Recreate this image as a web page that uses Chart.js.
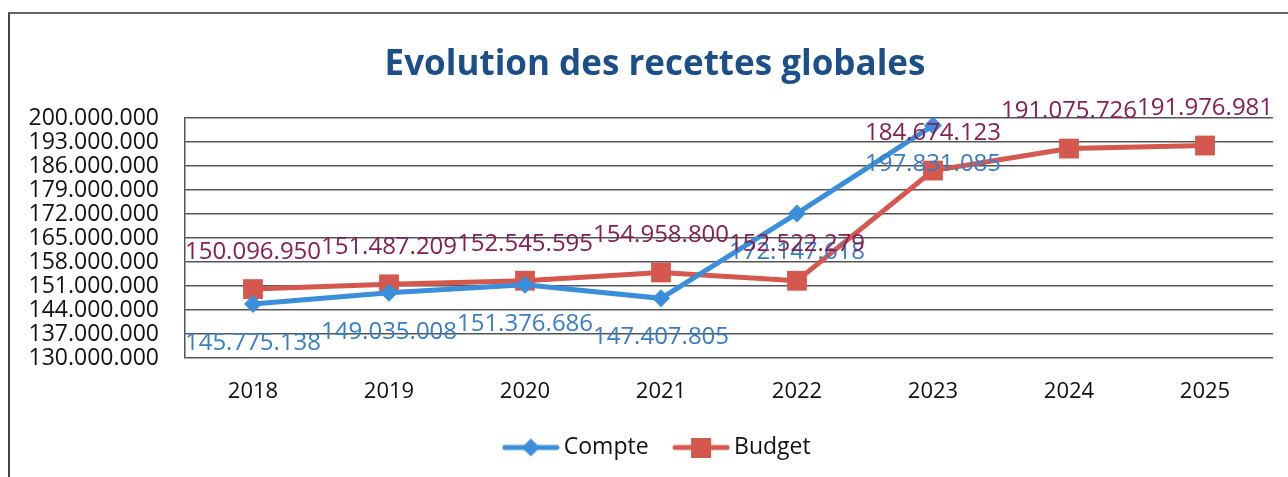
<!DOCTYPE html>
<html>
<head>
<meta charset="utf-8">
<script src="https://cdn.jsdelivr.net/npm/chart.js@4/dist/chart.umd.min.js"></script>
<style>
  html, body { margin: 0; padding: 0; background: #fff; }
  #wrap { position: relative; width: 1288px; height: 477px; overflow: hidden; }
  #frame { position: absolute; left: 8px; top: 12px; width: 1300px; height: 500px;
           border-left: 2px solid #444; border-top: 2px solid #666; pointer-events: none; }
</style>
</head>
<body>
<div id="wrap">
  <canvas id="chart" width="1288" height="477"></canvas>
  <div id="frame"></div>
</div>
<script>
const years = ['2018', '2019', '2020', '2021', '2022', '2023', '2024', '2025'];
const compte = [145775138, 149035008, 151376686, 147407805, 172147618, 197831085, null, null];
const budget = [150096950, 151487209, 152545595, 154958800, 152522279, 184674123, 191075726, 191976981];
const yMin = 130000000;
const yMax = 200000000;
const yStep = 7000000;

const fontFam = "'Open Sans', 'Noto Sans', sans-serif";
const blue = 'rgb(58, 142, 218)';
const red = 'rgb(212, 88, 78)';
const blueText = 'rgb(55, 125, 200)';
const redText = 'rgb(135, 30, 85)';

function fmt(v) {
  return v.toLocaleString('de-DE');
}

// line+marker image for the legend (empty strip on the left gives the gap between items)
function legendKey(color, shape) {
  var c = document.createElement('canvas');
  c.width = 79; c.height = 20;
  var g = c.getContext('2d');
  var x0 = 21;
  g.strokeStyle = color;
  g.lineWidth = 5;
  g.lineCap = 'round';
  g.beginPath(); g.moveTo(x0 + 3, 10); g.lineTo(x0 + 55, 10); g.stroke();
  g.fillStyle = color;
  if (shape == 'diamond') {
    g.beginPath(); g.moveTo(x0 + 29, 1); g.lineTo(x0 + 38, 10); g.lineTo(x0 + 29, 19); g.lineTo(x0 + 20, 10); g.closePath(); g.fill();
  } else {
    g.fillRect(x0 + 19, 0, 20, 20);
  }
  return c;
}

// data labels: Compte below the point, Budget above
const valueLabels = {
  id: 'valueLabels',
  afterDatasetsDraw(chart) {
    var ctx = chart.ctx;
    ctx.save();
    ctx.font = '24px ' + fontFam;
    ctx.textAlign = 'center';
    ctx.textBaseline = 'middle';
    chart.data.datasets.forEach((ds, i) => {
      var meta = chart.getDatasetMeta(i);
      meta.data.forEach((pt, j) => {
        var v = ds.data[j];
        if (v == null) return;
        ctx.fillStyle = i == 0 ? blueText : redText;
        ctx.fillText(fmt(v), pt.x, i == 0 ? pt.y + 39 : pt.y - 37);
      });
    });
    ctx.restore();
  }
};

// title and legend in the original sit a bit right of the canvas centre
const blockShift = {
  id: 'blockShift',
  afterLayout(chart) {
    var t = chart.titleBlock;
    if (t) { t.left += 27; t.width -= 27; }
    var l = chart.legend;
    if (l) { l.left += 16; l.width -= 16; }
  }
};

var ctx = document.getElementById('chart').getContext('2d');
var chart = new Chart(ctx, {
  type: 'line',
  data: {
    labels: years,
    datasets: [{
      label: 'Compte',
      data: compte,
      borderColor: blue,
      backgroundColor: blue,
      borderWidth: 5,
      pointStyle: 'rectRot',
      pointRadius: 9,
      pointBorderWidth: 0,
      tension: 0
    }, {
      label: 'Budget',
      data: budget,
      borderColor: red,
      backgroundColor: red,
      borderWidth: 5,
      pointStyle: 'rect',
      pointRadius: 14,
      pointBorderWidth: 0,
      tension: 0
    }]
  },
  options: {
    responsive: false,
    animation: false,
    layout: { padding: { left: 10, right: 15, top: 10, bottom: 8 } },
    plugins: {
      title: {
        display: true,
        text: 'Evolution des recettes globales',
        color: 'rgb(28, 78, 138)',
        font: { family: fontFam, size: 35, weight: 'bold' },
        padding: { top: 34, bottom: 32 }
      },
      legend: {
        position: 'bottom',
        labels: {
          usePointStyle: true,
          pointStyleWidth: 64,
          boxHeight: 20,
          color: '#111',
          font: { family: fontFam, size: 23 },
          padding: 10,
          generateLabels: function(chart) {
            return chart.data.datasets.map((ds, i) => ({
              text: ds.label,
              fillStyle: ds.borderColor,
              strokeStyle: ds.borderColor,
              lineWidth: 0,
              pointStyle: legendKey(ds.borderColor, i == 0 ? 'diamond' : 'square'),
              datasetIndex: i,
              fontColor: '#111'
            }));
          }
        }
      },
      tooltip: { enabled: false }
    },
    scales: {
      x: {
        offset: true,
        grid: { display: false, drawTicks: false },
        border: { display: false },
        ticks: { color: '#111', font: { family: fontFam, size: 22, lineHeight: 1.0 }, padding: 23 }
      },
      y: {
        min: yMin,
        max: yMax,
        afterFit: function(s) { s.width = 175; },
        grid: { color: '#555', lineWidth: 1.5, drawTicks: false },
        border: { display: true, color: '#555', width: 1.5 },
        ticks: {
          stepSize: yStep,
          autoSkip: false,
          color: '#111',
          padding: 26,
          font: { family: fontFam, size: 23 },
          callback: function(v) { return fmt(v); }
        }
      }
    }
  },
  plugins: [valueLabels, blockShift]
});
</script>
</body>
</html>
